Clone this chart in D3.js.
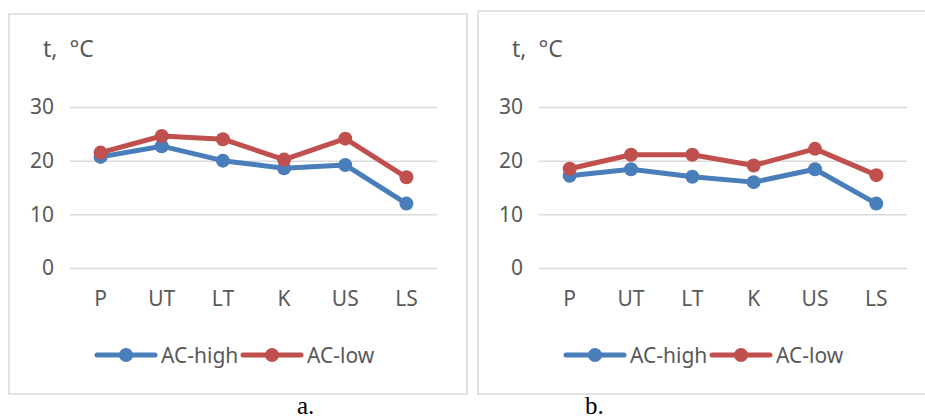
<!DOCTYPE html>
<html>
<head>
<meta charset="utf-8">
<script src="https://cdn.jsdelivr.net/npm/d3@7"></script>
<style>
  body { margin: 0; background: #fff; }
  svg text { font-family: "Noto Sans", sans-serif; fill: #595959; }
</style>
</head>
<body>
<script>
// zones along the profile
var categories = ["P", "UT", "LT", "K", "US", "LS"];
var yTicks = [0, 10, 20, 30];
var seriesNames = ["AC-high", "AC-low"];

// panel a
var highA = [20.7, 22.7, 20.0, 18.6, 19.2, 12.0];
var lowA  = [21.5, 24.6, 24.0, 20.2, 24.1, 16.9];
// panel b
var highB = [17.2, 18.4, 17.0, 16.0, 18.4, 12.0];
var lowB  = [18.5, 21.1, 21.1, 19.1, 22.2, 17.3];

var colors = ["#4a7ebb", "#c0504d"];

var svg = d3.select("body").append("svg")
    .attr("width", 925)
    .attr("height", 419);

var panels = [
  {box: [9, 14, 467, 394], plot: [70, 437], high: highA, low: lowA, caption: "a.", capX: 297},
  {box: [478, 11, 930, 394], plot: [539, 907], high: highB, low: lowB, caption: "b.", capX: 585}
];

panels.forEach(function(p) {
  var g = svg.append("g");

  // frame
  g.append("rect")
    .attr("x", p.box[0]).attr("y", p.box[1])
    .attr("width", p.box[2] - p.box[0])
    .attr("height", p.box[3] - p.box[1])
    .attr("fill", "#fff")
    .attr("stroke", "#d9d9d9")
    .attr("stroke-width", 1.5);

  var x = d3.scaleBand().domain(categories).range(p.plot);
  var y = d3.scaleLinear().domain([0, 30]).range([268, 107]);

  // gridlines + y labels
  var yAxis = d3.axisLeft(y).tickValues(yTicks)
      .tickSize(-(p.plot[1] - p.plot[0])).tickPadding(16);
  var ya = g.append("g")
      .attr("transform", "translate(" + p.plot[0] + ",0)")
      .call(yAxis);
  ya.select(".domain").remove();
  ya.selectAll("line").attr("stroke", "#d9d9d9").attr("stroke-width", 1.5);
  ya.selectAll("text").attr("font-size", 21).attr("fill", "#595959");

  // category labels
  var xAxis = d3.axisBottom(x).tickSize(0).tickPadding(23);
  var xa = g.append("g")
      .attr("transform", "translate(0,268)")
      .call(xAxis);
  xa.select(".domain").remove();
  xa.selectAll("text").attr("font-size", 21).attr("fill", "#595959");

  // axis title
  g.append("text")
    .attr("x", p.plot[0] - 27).attr("y", 57)
    .attr("font-size", 23)
    .attr("xml:space", "preserve")
    .text("t,  °C");

  var cx = function(d, i) { return x(categories[i]) + x.bandwidth() / 2; };
  var line = d3.line()
      .x(function(d, i) { return cx(d, i); })
      .y(function(d) { return y(d); });

  [p.high, p.low].forEach(function(vals, k) {
    g.append("path")
      .datum(vals)
      .attr("d", line)
      .attr("fill", "none")
      .attr("stroke", colors[k])
      .attr("stroke-width", 5)
      .attr("stroke-linejoin", "round");
    g.selectAll(null)
      .data(vals)
      .enter().append("circle")
      .attr("cx", cx)
      .attr("cy", function(d) { return y(d); })
      .attr("r", 7)
      .attr("fill", colors[k]);
  });

  // legend
  var lx = p.plot[0] + 27;
  var legX = [lx, lx + 146];
  seriesNames.forEach(function(name, k) {
    var lg = g.append("g").attr("transform", "translate(" + legX[k] + ",355)");
    lg.append("line")
      .attr("x1", 0).attr("x2", 58)
      .attr("stroke", colors[k])
      .attr("stroke-width", 5)
      .attr("stroke-linecap", "round");
    lg.append("circle").attr("cx", 29).attr("r", 7).attr("fill", colors[k]);
    lg.append("text")
      .attr("x", 64).attr("y", 7.5)
      .attr("font-size", 21)
      .text(name);
  });

  // caption under the frame
  svg.append("text")
    .attr("x", p.capX).attr("y", 414)
    .attr("font-size", 25)
    .style("font-family", "'Liberation Serif', serif")
    .style("fill", "#000")
    .text(p.caption);
});
</script>
</body>
</html>
